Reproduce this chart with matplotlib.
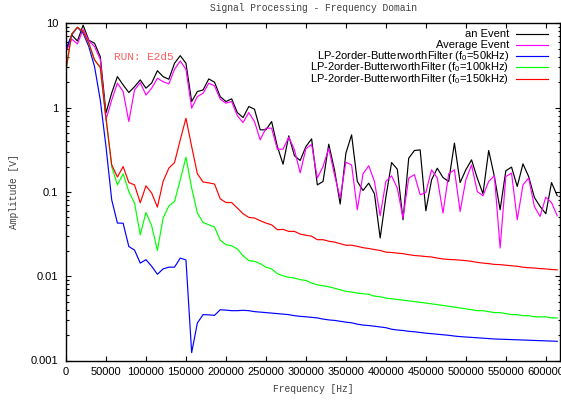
import numpy as np
import matplotlib
matplotlib.use('Agg')
import matplotlib.pyplot as plt
from matplotlib.ticker import FuncFormatter, LogLocator, MultipleLocator

plt.rcParams['font.family'] = ['Liberation Sans', 'DejaVu Sans']
plt.rcParams['mathtext.fontset'] = 'custom'
plt.rcParams['mathtext.rm'] = 'Liberation Sans'
plt.rcParams['mathtext.default'] = 'regular'

# frequency bin spacing [Hz]
df = 7140

# amplitudes [V], one value per frequency bin
event = [4.83, 7.27, 6.17, 9.5, 6.3, 5.8, 4.02, 0.865, 1.49, 2.33,
         1.86, 1.51, 1.77, 2.13, 1.70, 1.96, 2.74, 2.33, 2.17, 3.36,
         4.13, 3.36, 1.18, 1.55, 1.62, 2.19, 2.0, 1.35, 1.18, 1.27,
         0.873, 0.762, 1.03, 0.957, 0.545, 0.545, 0.683, 0.345, 0.213, 0.462,
         0.268, 0.236, 0.345, 0.426, 0.121, 0.133, 0.368, 0.183, 0.0717, 0.288,
         0.475, 0.133, 0.104, 0.127, 0.095, 0.0284, 0.0868, 0.223, 0.186, 0.0467,
         0.251, 0.310, 0.315, 0.0597, 0.139, 0.191, 0.148, 0.133, 0.379, 0.129,
         0.183, 0.240, 0.146, 0.095, 0.310, 0.152, 0.0614, 0.178, 0.197, 0.116,
         0.215, 0.152, 0.0859, 0.0672, 0.0551, 0.129, 0.090]

average = [4.61, 6.5, 5.69, 8.45, 6.22, 5.28, 3.74, 0.715, 1.23, 1.95,
           1.55, 0.683, 1.62, 1.98, 1.41, 1.70, 2.23, 2.03, 1.91, 2.85,
           3.57, 2.85, 0.984, 1.35, 1.48, 1.95, 1.81, 1.26, 1.13, 1.18,
           0.798, 0.665, 0.873, 0.683, 0.414, 0.570, 0.570, 0.321, 0.321, 0.446,
           0.315, 0.168, 0.325, 0.366, 0.146, 0.200, 0.330, 0.160, 0.0845, 0.225,
           0.209, 0.0614, 0.164, 0.204, 0.133, 0.0521, 0.133, 0.155, 0.111, 0.049,
           0.146, 0.160, 0.0925, 0.0984, 0.183, 0.146, 0.0561, 0.164, 0.183, 0.0586,
           0.139, 0.209, 0.101, 0.090, 0.133, 0.155, 0.0216, 0.152, 0.167, 0.0467,
           0.121, 0.146, 0.0672, 0.0512, 0.0868, 0.0748, 0.0521]

lp50 = [4.83, 7.27, 8.92, 7.61, 5.28, 3.06, 1.23, 0.345, 0.0806, 0.0427,
        0.0425, 0.0225, 0.0204, 0.0143, 0.0157, 0.0131, 0.01054, 0.0122, 0.0128, 0.0128,
        0.0164, 0.0156, 0.00124, 0.00279, 0.0035, 0.00348, 0.00343, 0.0040, 0.00396, 0.0039,
        0.0039, 0.00394, 0.0039, 0.0038, 0.00375, 0.0037, 0.00365, 0.0036, 0.00355, 0.0035,
        0.0034, 0.00334, 0.0033, 0.00325, 0.0032, 0.0031, 0.00303, 0.00299, 0.00292, 0.00285,
        0.0028, 0.0027, 0.00263, 0.0026, 0.00255, 0.0025, 0.00245, 0.00235, 0.0023, 0.00227,
        0.00222, 0.00219, 0.00215, 0.00211, 0.00208, 0.00205, 0.00202, 0.00199, 0.00195, 0.00192,
        0.0019, 0.00188, 0.00186, 0.00184, 0.00182, 0.0018, 0.00179, 0.00178, 0.00177, 0.00176,
        0.00175, 0.00174, 0.00173, 0.00172, 0.00171, 0.0017, 0.00169]

lp100 = [2.8, 7.47, 8.97, 7.95, 5.8, 3.67, 3.0, 0.75, 0.200, 0.121,
         0.164, 0.101, 0.0736, 0.031, 0.057, 0.0397, 0.0202, 0.049, 0.068, 0.0769,
         0.139, 0.258, 0.111, 0.0561, 0.0434, 0.0407, 0.0383, 0.0267, 0.0236, 0.023,
         0.021, 0.0175, 0.0153, 0.015, 0.0141, 0.0128, 0.0122, 0.0107, 0.0101, 0.0097,
         0.0095, 0.0091, 0.0089, 0.0083, 0.0079, 0.0077, 0.0075, 0.0072, 0.0069, 0.0066,
         0.0065, 0.0063, 0.0062, 0.0061, 0.0058, 0.0057, 0.0055, 0.0054, 0.0053, 0.0052,
         0.0051, 0.0050, 0.0049, 0.0048, 0.0047, 0.0046, 0.0045, 0.0044, 0.0043, 0.0042,
         0.0041, 0.0040, 0.0039, 0.0039, 0.0038, 0.0037, 0.0037, 0.0036, 0.0035, 0.0035,
         0.0034, 0.0034, 0.0033, 0.0033, 0.0033, 0.0032, 0.0032]

lp150 = [2.8, 7.47, 8.97, 7.95, 5.8, 3.67, 3.0, 0.75, 0.21, 0.150,
         0.200, 0.129, 0.121, 0.0743, 0.118, 0.0968, 0.066, 0.133, 0.191, 0.223,
         0.414, 0.748, 0.345, 0.164, 0.131, 0.128, 0.124, 0.0828, 0.0748, 0.0748,
         0.0643, 0.0551, 0.0498, 0.049, 0.0455, 0.0427, 0.0407, 0.0356, 0.0359, 0.034,
         0.034, 0.0316, 0.0306, 0.0298, 0.0271, 0.0271, 0.026, 0.0254, 0.0243, 0.0233,
         0.0233, 0.0226, 0.0218, 0.0213, 0.0207, 0.0202, 0.0193, 0.0191, 0.0188, 0.0185,
         0.018, 0.0176, 0.0174, 0.0171, 0.0169, 0.0164, 0.016, 0.0158, 0.0157, 0.0155,
         0.0153, 0.015, 0.0146, 0.0143, 0.0141, 0.0138, 0.0137, 0.0135, 0.0133, 0.0131,
         0.0128, 0.0126, 0.0125, 0.0123, 0.0122, 0.012, 0.0119]

labels = ['an Event', 'Average Event',
          'LP-2order-ButterworthFilter (f$_0$=50kHz)',
          'LP-2order-ButterworthFilter (f$_0$=100kHz)',
          'LP-2order-ButterworthFilter (f$_0$=150kHz)']
colors = ['#000000', '#ff00ff', '#0000ff', '#00ff00', '#ff0000']
series = [event, average, lp50, lp100, lp150]

freq = np.arange(len(event)) * df

fig = plt.figure(figsize=(5.61, 4.0), dpi=100)
ax = fig.add_axes([66/561, 1-360.5/400, 494/561, 337.2/400])

for s, c in zip(series, colors):
    ax.plot(freq, s, color=c, lw=0.85)

ax.set_yscale('log')
ax.set_xlim(0, 617500)
ax.set_ylim(0.001, 10)
ax.xaxis.set_major_locator(MultipleLocator(50000))
ax.xaxis.set_major_formatter(FuncFormatter(lambda v, p: '%d' % v))
ax.yaxis.set_major_locator(LogLocator(base=10))
ax.yaxis.set_minor_locator(LogLocator(base=10, subs=np.arange(2, 10)))
ax.yaxis.set_major_formatter(FuncFormatter(lambda v, p: '%g' % v))
ax.tick_params(which='both', direction='in', top=True, right=True, labelsize=8, colors='black')
ax.tick_params(which='major', length=3.6, width=0.8)
ax.tick_params(which='minor', length=1.8, width=0.8)
ax.tick_params(axis='x', pad=5)
ax.tick_params(axis='y', pad=5.5)
for sp in ax.spines.values():
    sp.set_linewidth(1.0)

mono = 'Liberation Mono'
fig.text(313/561, 1-8/400, 'Signal Processing - Frequency Domain', family=mono,
         fontsize=6.9, color='#404040', ha='center', va='center')
fig.text(313/561, 1-389/400, 'Frequency [Hz]', family=mono,
         fontsize=6.9, color='#404040', ha='center', va='center')
fig.text(14/561, 1-192/400, 'Amplitude [V]', family=mono, rotation=90,
         fontsize=6.9, color='#404040', ha='center', va='center')
fig.text(114/561, 1-57.5/400, 'RUN: E2d5', family=mono,
         fontsize=8, color='#ff6060', ha='left', va='center')

# legend drawn like gnuplot: right-aligned text with the sample line after it
rows = [34.3, 45.3, 56.2, 67.3, 78.5]
for lab, c, ry in zip(labels, colors, rows):
    fig.text(509/561, 1-ry/400, lab, fontsize=8, ha='right', va='center')
    fig.add_artist(plt.Line2D([516/561, 548/561], [1-ry/400, 1-ry/400], color=c, lw=0.85))

fig.savefig('out.png', dpi=100)
